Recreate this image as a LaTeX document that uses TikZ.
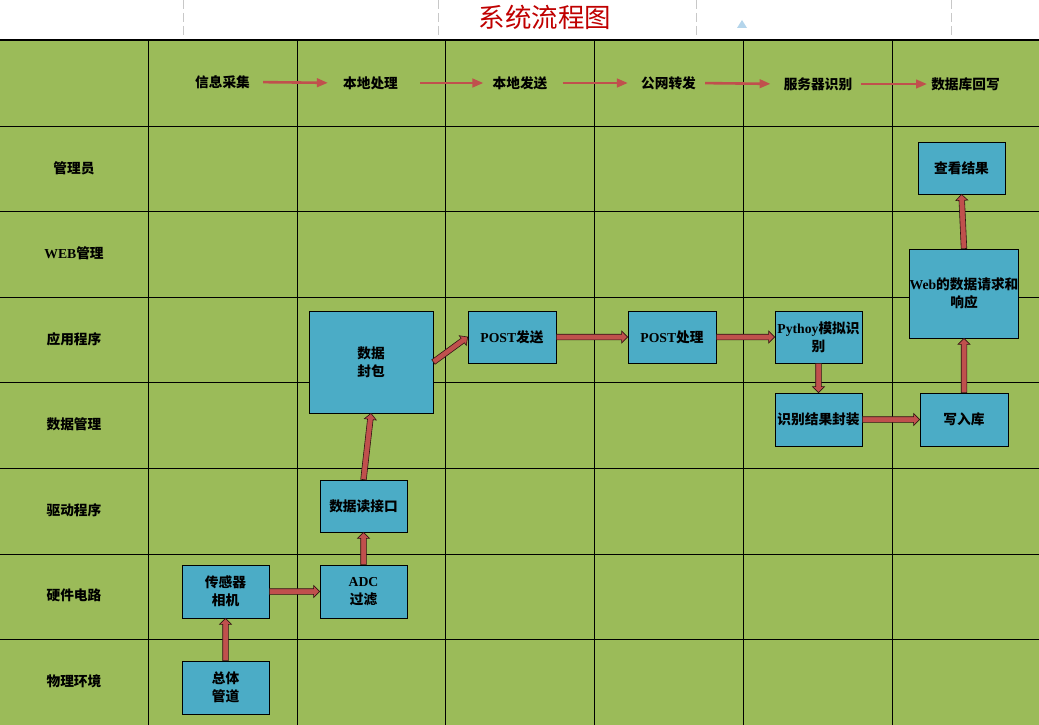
\documentclass[tikz,border=0pt]{standalone}
\usepackage{fontspec}
\setmainfont{Noto Sans CJK SC}
\newfontfamily\lat{Liberation Serif}
\usetikzlibrary{arrows.meta,calc}
\definecolor{cellgreen}{RGB}{155,187,89}
\definecolor{boxblue}{RGB}{75,172,198}
\definecolor{arrred}{RGB}{192,80,77}
\definecolor{titlered}{RGB}{192,0,0}
\definecolor{dashgray}{RGB}{200,200,200}
\definecolor{tricol}{RGB}{180,213,235}
\newcommand{\blockarr}[2]{%
  \coordinate (bs) at (#1);
  \coordinate (be) at (#2);
  \coordinate (bh) at ($(be)!6pt!(bs)$);
  \filldraw[fill=arrred,draw=black!75!arrred,line width=0.6pt,line join=miter]
    ($(bs)!2.8pt!90:(be)$) -- ($(bh)!2.8pt!-90:(bs)$) -- ($(bh)!6pt!-90:(bs)$) --
    (be) -- ($(bh)!6pt!90:(bs)$) -- ($(bh)!2.8pt!90:(bs)$) -- ($(bs)!2.8pt!-90:(be)$) -- cycle;
}
\tikzset{
  gridline/.style={black,line width=0.9pt},
  txt/.style={font=\fontsize{13.7}{18}\selectfont\bfseries,inner sep=0pt,align=center},
  box/.style={txt,draw=black,fill=boxblue,line width=0.8pt,minimum width=87pt,minimum height=53pt},
  hdrarrow/.style={arrred,line width=2.6pt,-{Triangle[length=11pt,width=8.5pt]}},
}
\begin{document}
\begin{tikzpicture}[x=1pt,y=-1pt]
\useasboundingbox (0,0) rectangle (1039,725);
\fill[white] (0,0) rectangle (1039,725);
% top area
\foreach \x in {183,438,696,951}
  \draw[dashgray,line width=0.8pt,dash pattern=on 9pt off 4pt] (\x,0) -- (\x,38);
\node[font=\fontsize{26.5}{28}\selectfont,text=titlered,inner sep=0pt] (title) at (545,17) {系统流程图};
\fill[tricol] (737,28) -- (747,28) -- (742,20) -- cycle;
% table
\fill[cellgreen] (0,40) rectangle (1039,725);
\foreach \x in {148,297,445,594,743,892}
  \draw[gridline] (\x,40) -- (\x,725);
\foreach \y in {126,211,297,382,468,554,639}
  \draw[gridline] (0,\y) -- (1039,\y);
\draw[black,line width=1.6pt] (0,40) -- (1039,40);
% header labels
\node[txt] (h1) at (222.5,82) {信息采集};
\node[txt] (h2) at (370.5,83) {本地处理};
\node[txt] (h3) at (520,83) {本地发送};
\node[txt] (h4) at (668.5,83) {公网转发};
\node[txt] (h5) at (818,84) {服务器识别};
\node[txt] (h6) at (965.5,84) {数据库回写};
\draw[hdrarrow,shorten <=13pt,shorten >=15pt] (h1.east) -- (h2.west);
\draw[hdrarrow,shorten <=22pt,shorten >=9pt] (h2.east) -- (h3.west);
\draw[hdrarrow,shorten <=15pt,shorten >=13pt] (h3.east) -- (h4.west);
\draw[hdrarrow,shorten <=9pt,shorten >=13pt] (h4.east) -- (h5.west);
\draw[hdrarrow,shorten <=9pt,shorten >=4pt] (h5.east) -- (h6.west);
% row labels
\node[txt] (r1) at (74,168) {管理员};
\node[txt] (r2) at (74,253) {{\lat WEB}管理};
\node[txt] (r3) at (74,339) {应用程序};
\node[txt] (r4) at (74,424) {数据管理};
\node[txt] (r5) at (74,510) {驱动程序};
\node[txt] (r6) at (74,595) {硬件电路};
\node[txt] (r7) at (74,681) {物理环境};
% boxes
\node[box] (pipe) at (225.5,687.5) {总体\\管道};
\node[box] (cam) at (225.5,591.5) {传感器\\相机};
\node[box] (adc) at (363.5,591.5) {{\lat ADC}\\过滤};
\node[box,minimum height=52pt] (read) at (363.5,506) {数据读接口};
\node[box,minimum width=124pt,minimum height=102pt] (pack) at (371,362) {数据\\封包};
\node[box,minimum width=88pt,minimum height=52pt] (post) at (512,337) {{\lat POST}发送};
\node[box,minimum width=88pt,minimum height=52pt] (proc) at (672,337) {{\lat POST}处理};
\node[box,minimum height=52pt] (py) at (818.5,337) {{\lat Pythoy}模拟识\\别};
\node[box] (res) at (818.5,419.5) {识别结果封装};
\node[box,minimum width=88pt] (db) at (964,419.5) {写入库};
\node[box,minimum width=108pt,minimum height=89pt] (web) at (964,293.5) {{\lat Web}的数据请求和\\响应};
\node[box,minimum height=52pt] (view) at (961.5,168) {查看结果};
% block arrows
\blockarr{pipe.north}{cam.south}
\blockarr{cam.east}{adc.west}
\blockarr{adc.north}{read.south}
\blockarr{read.north}{pack.south}
\blockarr{pack.east}{post.west}
\blockarr{post.east}{proc.west}
\blockarr{proc.east}{py.west}
\blockarr{py.south}{res.north}
\blockarr{res.east}{db.west}
\blockarr{db.north}{web.south}
\blockarr{web.north}{view.south}
\end{tikzpicture}
\end{document}
